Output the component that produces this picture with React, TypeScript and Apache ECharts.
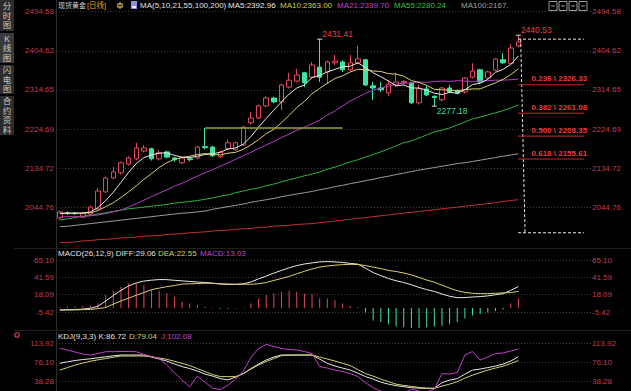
import React, { useEffect, useRef } from 'react';
import * as echarts from 'echarts';

const FONT = '"Liberation Sans", Arial, "Noto Sans CJK SC", sans-serif';

// 70 category slots: 61 daily candles + empty space on the right for the drawing tools
const CATEGORIES: string[] = Array.from({ length: 70 }, (_, i) => `D${i + 1}`);

const OPEN = [2020, 2032, 2031, 2022, 2029, 2041, 2080, 2112, 2124, 2144, 2156, 2174, 2179, 2156, 2172, 2158, 2147, 2156, 2158, 2184, 2183, 2161, 2179, 2177, 2188, 2239, 2250, 2278, 2296, 2287, 2321, 2335, 2354, 2344, 2367, 2356, 2377, 2379, 2361, 2377, 2384, 2324, 2319, 2308, 2326, 2331, 2330, 2285, 2317, 2300, 2292, 2319, 2313, 2310, 2344, 2361, 2342, 2360, 2384, 2376, 2416];
const CLOSE = [2034, 2030, 2030, 2031, 2045, 2082, 2112, 2126, 2147, 2158, 2181, 2181, 2156, 2170, 2160, 2154, 2158, 2154, 2183, 2182, 2163, 2172, 2193, 2193, 2229, 2250, 2278, 2296, 2287, 2326, 2337, 2349, 2331, 2372, 2344, 2379, 2381, 2361, 2377, 2386, 2326, 2319, 2315, 2328, 2333, 2334, 2285, 2317, 2303, 2297, 2319, 2310, 2307, 2342, 2358, 2333, 2356, 2386, 2377, 2411, 2425];
const LOW = [2016, 2027, 2027, 2020, 2026, 2038, 2078, 2109, 2120, 2141, 2153, 2171, 2152, 2152, 2157, 2150, 2144, 2150, 2155, 2178, 2160, 2158, 2176, 2174, 2185, 2236, 2247, 2275, 2284, 2268, 2318, 2332, 2321, 2341, 2333, 2328, 2372, 2356, 2358, 2374, 2323, 2291, 2310, 2300, 2322, 2328, 2282, 2281, 2300, 2277.18, 2288, 2307, 2304, 2306, 2341, 2330, 2339, 2357, 2374, 2373, 2413];
const HIGH = [2037, 2035, 2034, 2034, 2048, 2089, 2115, 2137, 2150, 2162, 2193, 2188, 2182, 2175, 2175, 2161, 2160, 2159, 2186, 2227, 2186, 2175, 2200, 2196, 2232, 2264, 2281, 2300, 2299, 2329, 2354, 2363, 2356, 2379, 2431.41, 2382, 2395, 2383, 2395, 2416, 2386, 2333, 2333, 2337, 2354, 2338, 2333, 2326, 2325, 2302, 2322, 2326, 2316, 2344, 2376, 2363, 2359, 2388, 2399, 2420, 2440.53];

const MA5 = [2030, 2031, 2031, 2031, 2034, 2044, 2060, 2079, 2102, 2125, 2145, 2159, 2165, 2169, 2170, 2164, 2160, 2159, 2162, 2166, 2168, 2171, 2179, 2181, 2190, 2207, 2229, 2249, 2268, 2287, 2305, 2319, 2326, 2343, 2348, 2356, 2362, 2368, 2369, 2377, 2366, 2354, 2345, 2335, 2324, 2326, 2319, 2319, 2314, 2307, 2304, 2309, 2307, 2315, 2327, 2330, 2339, 2355, 2362, 2373, 2392.96];
const MA10 = [2031, 2031, 2031, 2031, 2032, 2037, 2046, 2055, 2067, 2080, 2094, 2109, 2122, 2136, 2147, 2155, 2159, 2162, 2166, 2168, 2166, 2165, 2169, 2171, 2178, 2188, 2200, 2214, 2224, 2239, 2256, 2274, 2288, 2306, 2318, 2330, 2341, 2347, 2356, 2362, 2361, 2358, 2357, 2352, 2351, 2346, 2336, 2332, 2325, 2316, 2315, 2314, 2313, 2315, 2317, 2317, 2324, 2331, 2339, 2350, 2363];
const MA21 = [2022, 2023, 2023, 2024, 2025, 2027, 2030, 2034, 2038, 2045, 2053, 2061, 2069, 2077, 2085, 2093, 2100, 2108, 2116, 2124, 2131, 2139, 2147, 2155, 2163, 2171, 2180, 2188, 2196, 2205, 2213, 2221, 2229, 2237, 2245, 2257, 2266, 2278, 2289, 2298, 2307, 2314, 2319, 2323, 2328, 2330, 2331, 2333, 2332, 2334, 2335, 2334, 2336, 2335, 2334, 2335, 2336, 2337, 2337, 2338, 2339.7];
const MA55 = [2015, 2018, 2021, 2024, 2026, 2029, 2032, 2035, 2038, 2041, 2043, 2045, 2047, 2049, 2051, 2054, 2056, 2058, 2060, 2063, 2066, 2070, 2073, 2078, 2082, 2086, 2089, 2094, 2098, 2103, 2108, 2112, 2117, 2121, 2126, 2132, 2137, 2143, 2149, 2154, 2160, 2166, 2172, 2179, 2186, 2193, 2197, 2204, 2211, 2218, 2222, 2227, 2234, 2241, 2248, 2252, 2257, 2262, 2267, 2273, 2280.24];
const MA100 = [2000, 2001, 2003, 2005, 2007, 2009, 2011, 2013, 2015, 2017, 2019, 2021, 2023, 2025, 2027, 2029, 2031, 2032, 2034, 2036, 2040, 2043, 2046, 2049, 2052, 2056, 2059, 2062, 2065, 2069, 2072, 2075, 2078, 2081, 2085, 2088, 2092, 2095, 2099, 2102, 2106, 2109, 2113, 2116, 2120, 2123, 2127, 2130, 2133, 2136, 2139, 2142, 2145, 2147, 2150, 2153, 2156, 2159, 2162, 2165, 2167.4];
const MA200 = [1963, 1964, 1965, 1967, 1968, 1970, 1971, 1972, 1974, 1975, 1976, 1978, 1979, 1980, 1982, 1983, 1984, 1986, 1987, 1988, 1990, 1991, 1992, 1994, 1995, 1996, 1998, 1999, 2001, 2002, 2003, 2005, 2006, 2007, 2009, 2011, 2013, 2015, 2017, 2019, 2021, 2023, 2025, 2027, 2029, 2031, 2033, 2035, 2037, 2039, 2041, 2043, 2045, 2047, 2049, 2051, 2053, 2055, 2058, 2060, 2062];

const DIFF = [-2.5, -2.3, -2.0, -1.4, -0.3, 2.5, 9.5, 17, 24, 30, 34, 36.5, 37.8, 38.6, 38.5, 37.6, 36.8, 36, 35.2, 34.6, 33.8, 32.5, 32, 32, 32.8, 35.3, 39.5, 43.3, 47.3, 51, 54.5, 57.5, 59.7, 61.2, 62.5, 63, 62.5, 61.8, 60.5, 59.5, 54, 48, 44, 40, 37, 34.5, 31.5, 28, 25, 22.5, 19, 16, 14, 14.2, 15, 15.5, 16.5, 18, 19.5, 24, 29.06];
const DEA = [-2.7, -2.6, -2.5, -2.2, -1.9, -0.8, 0.7, 5.3, 9.6, 13.3, 17.3, 21, 25, 27, 29, 30.5, 32.5, 32.8, 33.2, 33.7, 33.4, 32.9, 32.5, 32.3, 32.3, 32.2, 33, 34.5, 37.4, 40, 42.8, 46.5, 49.8, 53, 55.5, 57, 58, 58.8, 59.2, 59, 57.5, 55.5, 53.5, 51, 49.5, 47.5, 45, 41.5, 38, 35, 31, 27, 23.5, 21.2, 20, 19.5, 19.5, 20, 20.5, 21, 22.55];
const MACD_HIST = [1, 2, 2, 3, 3, 6, 17.6, 23.4, 28.8, 33.4, 33.4, 31, 25.3, 23.4, 19.8, 15.3, 8.6, 6.3, 4, 1.8, 0.8, -0.8, -1, -0.6, 0.8, 6.3, 13, 17.6, 19.8, 22, 23.4, 22, 19.8, 18.9, 13, 13, 10.8, 6.3, 2.7, 1.5, -6, -17, -19, -22, -25, -26, -27, -27, -26, -25, -24, -22, -19, -14, -10, -8, -6, -4, -2, 6.3, 13.03];

const K_LINE = [73.5, 76.5, 79, 81, 82.5, 84.5, 86.5, 88.5, 90, 90, 90, 90, 86, 82, 78, 72, 67, 63, 58, 52, 48, 43, 40.5, 46, 53, 63, 72, 80, 86, 90, 90, 90, 90, 90, 82, 73.5, 68, 64, 60, 54, 47, 42, 36, 32, 29, 27, 25, 24, 23.7, 23.7, 35, 40, 43, 52, 60, 62, 65, 68, 72, 78, 86.72];
const D_LINE = [60, 65, 70, 74, 77.5, 80.5, 83, 85.5, 88, 88, 88, 88, 86.5, 84, 81.5, 77.5, 73.5, 69, 63, 57, 51, 47, 47, 47, 53, 62, 70, 77, 83, 88.7, 89.5, 90, 90, 90, 86, 82, 78, 73.5, 69, 61, 53, 48, 42, 37, 32, 29.5, 27.5, 25.5, 24, 23.7, 28, 32, 36.9, 44, 50, 55, 60, 64, 68, 73, 79.04];
const J_LINE = [103.4, 100, 96, 92, 90, 93, 96.6, 96.6, 97, 97, 96.6, 91, 87, 83, 70, 55, 40, 27, 48, 36, 24, 21, 30, 42, 58, 85, 103, 111, 107, 103, 101, 100, 97, 93, 67, 64, 60, 57, 53, 47, 35, 25, 18, 15, 12, 14, 22, 18, 17, 22, 53, 52, 55, 90, 97, 80, 86, 93, 94, 98, 102.08];

const MAIN_TICKS = ['2044.76', '2134.72', '2224.69', '2314.65', '2404.62', '2494.58'];
const MACD_TICKS = ['-5.42', '18.09', '41.59', '65.10'];
const KDJ_TICKS = ['38.28', '76.10', '113.92'];

// Fibonacci drawing tool
const FIB_RATIOS = ['0.236', '0.382', '0.500', '0.618'];
const FIB_VALUES = [2326.33, 2261.08, 2208.35, 2155.61];
const FIB_TOP = 2431.41;
const FIB_BOTTOM = 1986;
const FIB_X = [59.95, 68.6];
const FIB_STEM_X = [60.3, 60.87];
// horizontal drawing line
const HLINE_X = [19, 37];
const HLINE_VALUE = 2227;
// extreme price marks
const MARK_IDX = [34, 60, 49];
const MARK_VALUES = [2431.41, 2440.53, 2277.18];

const UP = '#e5485a';
const DOWN = '#3fe3a2';
const AXIS_LABEL = '#c23c50';
const GRID_LINE = '#3a3a3a';

function axisFromTicks(ticks: string[], below: number) {
  const nums = ticks.map(Number);
  const n = nums.length;
  const r6 = (x: number) => Math.round(x * 1e6) / 1e6;
  const interval = r6((nums[n - 1] - nums[0]) / (n - 1));
  const min = r6(nums[0] - below * interval);
  const max = r6(min + (n - 1 + below) * interval);
  return { min, max, interval };
}

const fmt = (ticks: string[]) => (v: number) => ticks.find((t) => Math.abs(Number(t) - v) < 0.02) ?? '';

function yPair(gridIndex: number, ticks: string[], below: number) {
  const r = axisFromTicks(ticks, below);
  const common = {
    type: 'value', gridIndex, min: r.min, max: r.max, interval: r.interval,
    axisLine: { show: false }, axisTick: { show: false },
  };
  const label = { color: AXIS_LABEL, fontSize: 8, fontFamily: FONT, formatter: fmt(ticks) };
  return [
    { ...common, position: 'left', axisLabel: { ...label, margin: 2 },
      splitLine: { show: true, showMinLine: false, lineStyle: { color: GRID_LINE, type: [1, 2], width: 1 } } },
    { ...common, position: 'right', axisLabel: { ...label, margin: 1 }, splitLine: { show: false } },
  ];
}

const txt = (x: number, y: number, text: string, fill: string, size = 8, extra: any = {}) => ({
  type: 'text', x, y, silent: true,
  style: { text, fill, fontSize: size, fontFamily: FONT, verticalAlign: 'middle', ...extra },
});

const TABS = [
  { label: '分\n时\n图', y0: 0, y1: 31 },
  { label: 'K\n线\n图', y0: 33, y1: 63 },
  { label: '闪\n电\n图', y0: 65, y1: 94 },
  { label: '合\n约\n资\n料', y0: 96, y1: 135 },
];

function buildOption() {
  const lineOf = (data: number[], color: string, xAxisIndex: number, yAxisIndex: number) => ({
    type: 'line', data, xAxisIndex, yAxisIndex, showSymbol: false, symbol: 'none', silent: true,
    lineStyle: { width: 1, color }, itemStyle: { color }, z: 3,
  });

  const drawLine = (pts: number[][], color: string, dashed: boolean, width = 1) => ({
    type: 'line', xAxisIndex: 3, yAxisIndex: 0, data: pts, showSymbol: false, symbol: 'none', silent: true,
    lineStyle: { color, width, type: dashed ? [3, 2] : 'solid' }, z: 4,
  });

  const fibSeries = FIB_VALUES.map((v, i) => ({
    type: 'line', xAxisIndex: 3, yAxisIndex: 0, silent: true, z: 4,
    symbol: 'circle', symbolSize: 1, showSymbol: true, itemStyle: { color: 'rgba(0,0,0,0)' },
    lineStyle: { color: '#c8282c', width: 1 },
    data: [
      { value: [FIB_X[0], v], label: { show: true, position: 'right', distance: 13, offset: [0, -6],
        formatter: `${FIB_RATIOS[i]} \\ ${v.toFixed(2)}`, color: '#e83c3c', fontSize: 8, fontWeight: 'bold', fontFamily: FONT } },
      [FIB_X[1], v],
    ],
  }));

  const markData = MARK_IDX.map((idx, i) => {
    const isLow = LOW[idx] === MARK_VALUES[i];
    return {
      coord: [idx, MARK_VALUES[i]], value: MARK_VALUES[i],
      label: { show: true, position: 'right', distance: 0, offset: [0, isLow ? 5 : -5],
        color: isLow ? '#40d8a0' : '#e8404e', fontSize: 8.5, fontFamily: FONT,
        formatter: (p: any) => Number(p.value).toFixed(2) },
    };
  });

  const graphic: any[] = [];
  TABS.forEach((t, i) => {
    graphic.push({ type: 'rect', silent: true, shape: { x: 0, y: t.y0, width: 14, height: t.y1 - t.y0 },
      style: { fill: i === 1 ? '#3a3a3a' : '#2c2c2c' } });
    graphic.push({ type: 'text', silent: true, x: 7, y: (t.y0 + t.y1) / 2,
      style: { text: t.label, fill: '#c8c8c8', fontSize: 8.5, fontFamily: FONT, align: 'center', verticalAlign: 'middle', lineHeight: 9.5 } });
  });
  graphic.push({ type: 'line', silent: true, shape: { x1: 56.5, y1: 0, x2: 56.5, y2: 400 }, style: { stroke: '#2e2e2e', lineWidth: 1 } });
  graphic.push({ type: 'line', silent: true, shape: { x1: 14, y1: 248.5, x2: 631, y2: 248.5 }, style: { stroke: '#1e1e1e', lineWidth: 1 } });
  graphic.push({ type: 'line', silent: true, shape: { x1: 14, y1: 330.5, x2: 631, y2: 330.5 }, style: { stroke: '#1e1e1e', lineWidth: 1 } });
  // title row
  graphic.push(txt(58, 5.5, '现货黄金', '#d8d8d8', 7));
  graphic.push(txt(87, 5.5, '[日线]', '#e0a030', 7.5));
  graphic.push({ type: 'circle', silent: true, shape: { cx: 120, cy: 5.5, r: 3.3 }, style: { fill: '#a08a3a' } });
  graphic.push({ type: 'line', silent: true, shape: { x1: 118, y1: 5.5, x2: 122, y2: 5.5 }, style: { stroke: '#222', lineWidth: 1 } });
  graphic.push({ type: 'rect', silent: true, shape: { x: 131, y: 1, width: 6, height: 8 }, style: { fill: '#9090d8' } });
  graphic.push({ type: 'rect', silent: true, shape: { x: 132, y: 6, width: 4, height: 2 }, style: { fill: '#e8e8f8' } });
  graphic.push(txt(140, 5.5, 'MA(5,10,21,55,100,200)', '#e0e0e0'));
  graphic.push(txt(228, 5.5, 'MA5:2392.96', '#e8e8e8'));
  graphic.push(txt(280, 5.5, 'MA10:2363.00', '#c8d050'));
  graphic.push(txt(337, 5.5, 'MA21:2339.70', '#c040c8'));
  graphic.push(txt(394, 5.5, 'MA55:2280.24', '#30c040'));
  graphic.push(txt(461, 5.5, 'MA100:2167.', '#a0a0a0'));
  [549, 559, 569, 579].forEach((x) => {
    graphic.push({ type: 'rect', silent: true, shape: { x, y: 1.5, width: 8, height: 9 }, style: { fill: 'none', stroke: '#9a9a9a', lineWidth: 1 } });
    graphic.push({ type: 'line', silent: true, shape: { x1: x + 2, y1: 6, x2: x + 6, y2: 6 }, style: { stroke: '#9a9a9a', lineWidth: 1 } });
  });
  // MACD title
  graphic.push(txt(58, 253, 'MACD(26,12,9) DIFF:29.06', '#e0e0e0'));
  graphic.push(txt(158, 253, 'DEA:22.55', '#d0d060'));
  graphic.push(txt(200, 253, 'MACD:13.03', '#c040c8'));
  // KDJ title
  graphic.push({ type: 'circle', silent: true, shape: { cx: 17, cy: 335, r: 2.2 }, style: { fill: 'none', stroke: '#e04050', lineWidth: 1.2 } });
  graphic.push(txt(58, 336, 'KDJ(9,3,3) K:86.72', '#e0e0e0'));
  graphic.push(txt(129, 336, 'D:79.04', '#d0d060'));
  graphic.push(txt(161, 336, 'J:102.08', '#c040c8'));

  const gridCommon = { left: 56, width: 535, containLabel: false, outerBoundsMode: 'none' };
  const catAxis = (gridIndex: number) => ({ type: 'category', gridIndex, data: CATEGORIES, boundaryGap: true, show: false });

  return {
    animation: false,
    backgroundColor: '#000',
    grid: [
      { ...gridCommon, top: 11.7, height: 234.6 },
      { ...gridCommon, top: 260, height: 69.4 },
      { ...gridCommon, top: 343, height: 57 },
    ],
    xAxis: [
      catAxis(0), catAxis(1), catAxis(2),
      { type: 'value', gridIndex: 0, min: -0.5, max: 69.5, show: false },
    ],
    yAxis: [
      ...yPair(0, MAIN_TICKS, 1),
      ...yPair(1, MACD_TICKS, 1),
      ...yPair(2, KDJ_TICKS, 1),
    ],
    graphic,
    series: [
      {
        type: 'candlestick', xAxisIndex: 0, yAxisIndex: 0, barWidth: 5, silent: true, z: 2,
        data: OPEN.map((o, i) => [o, CLOSE[i], LOW[i], HIGH[i]]),
        itemStyle: { color: '#000', color0: DOWN, borderColor: UP, borderColor0: DOWN, borderWidth: 1 },
        markPoint: { symbol: 'rect', symbolSize: [5, 1], itemStyle: { color: '#dddddd' }, silent: true, data: markData },
      },
      lineOf(MA200, '#c03030', 0, 0),
      lineOf(MA100, '#9a9a9a', 0, 0),
      lineOf(MA55, '#2fb040', 0, 0),
      lineOf(MA21, '#b040c0', 0, 0),
      lineOf(MA10, '#d8d070', 0, 0),
      lineOf(MA5, '#e8e8e8', 0, 0),
      drawLine([[HLINE_X[0], HLINE_VALUE], [HLINE_X[1], HLINE_VALUE]], '#9c9c3c', false, 1.5),
      drawLine([[FIB_X[0], FIB_TOP], [FIB_X[1], FIB_TOP]], '#e8e8e8', true),
      drawLine([[FIB_X[0], FIB_BOTTOM], [FIB_X[1], FIB_BOTTOM]], '#e8e8e8', true),
      drawLine([[FIB_STEM_X[0], FIB_TOP], [FIB_STEM_X[1], FIB_BOTTOM]], '#e8e8e8', true),
      ...fibSeries,
      {
        type: 'bar', xAxisIndex: 1, yAxisIndex: 2, barWidth: 1, silent: true,
        data: MACD_HIST.map((v) => ({ value: v, itemStyle: { color: v >= 0 ? UP : DOWN } })),
      },
      lineOf(DIFF, '#e8e8e8', 1, 2),
      lineOf(DEA, '#d8d070', 1, 2),
      lineOf(K_LINE, '#e8e8e8', 2, 4),
      lineOf(D_LINE, '#d8d070', 2, 4),
      lineOf(J_LINE, '#c040c8', 2, 4),
    ],
  };
}

export default function App() {
  const ref = useRef<HTMLDivElement>(null);
  useEffect(() => {
    document.body.style.margin = '0';
    document.body.style.background = '#000';
    document.body.style.overflow = 'hidden';
    const chart = echarts.init(ref.current!, null, { renderer: 'svg' });
    chart.setOption(buildOption() as any);
    return () => chart.dispose();
  }, []);
  return <div ref={ref} style={{ width: 631, height: 400, background: '#000' }} />;
}
